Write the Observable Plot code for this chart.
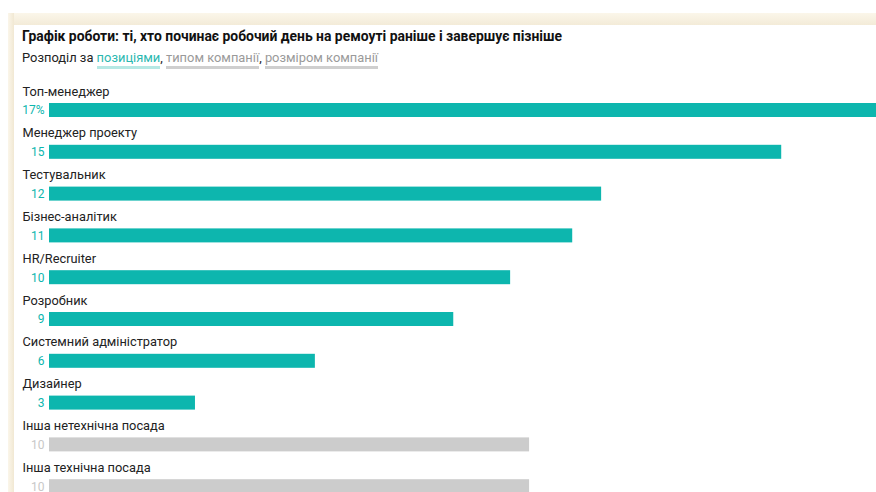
<!DOCTYPE html>
<html>
<head>
<meta charset="utf-8">
<script src="https://cdn.jsdelivr.net/npm/d3@7"></script>
<script src="https://cdn.jsdelivr.net/npm/@observablehq/plot@0.6"></script>
<style>
  html, body { margin: 0; padding: 0; background: #fff; width: 876px; height: 492px; overflow: hidden; }
  body { position: relative; font-family: Roboto, "Noto Sans", sans-serif; color: #222; }
  .frame-top { position: absolute; left: 8px; top: 13px; width: 868px; height: 12px;
    background: linear-gradient(#fbf6ea, #f3ebd8); }
  .frame-left { position: absolute; left: 8px; top: 13px; width: 6px; height: 479px;
    background: linear-gradient(90deg, #fbf6ea, #f1e8d3); }
  .title { position: absolute; left: 22px; top: 28px; font-size: 13.9px; font-weight: 700; line-height: 16px; white-space: nowrap; color: #111; }
  .subtitle { position: absolute; left: 22px; top: 50px; font-size: 12.9px; line-height: 16px; white-space: nowrap; color: #222; }
  .subtitle .tab { border-bottom: 3px solid #cfcfcf; color: #9a9a9a; padding-bottom: 1px; }
  .subtitle .tab.active { border-bottom-color: #b6e8e4; color: #2bb8b0; }
  #chart { position: absolute; left: 0; top: 78px; }
</style>
</head>
<body>
<div class="frame-top"></div>
<div class="frame-left"></div>
<div class="title">Графік роботи: ті, хто починає робочий день на ремоуті раніше і завершує пізніше</div>
<div class="subtitle">Розподіл за <span class="tab active">позиціями</span>, <span class="tab">типом компанії</span>, <span class="tab">розміром компанії</span></div>
<div id="chart"></div>
<script>
// Share of respondents (%) by position
const categories = [
  "Топ-менеджер",
  "Менеджер проекту",
  "Тестувальник",
  "Бізнес-аналітик",
  "HR/Recruiter",
  "Розробник",
  "Системний адміністратор",
  "Дизайнер",
  "Інша нетехнічна посада",
  "Інша технічна посада"
];
const values = [17.45, 15.45, 11.65, 11.04, 9.73, 8.53, 5.61, 3.08, 10.13, 10.13];
// Catch-all groups are shown in grey
const otherCategories = ["Інша нетехнічна посада", "Інша технічна посада"];

const teal = "#0db6ae";
const grey = "#cccccc";

const rows = categories.map((name, i) => ({
  name,
  value: values[i],
  other: otherCategories.includes(name),
  label: d3.format(".0f")(values[i]) + (i === 0 ? "%" : "")
}));

const rowStep = 41.8;
const bandTop = 4;

const chart = Plot.plot({
  width: 876,
  height: 414,
  marginLeft: 0,
  marginRight: 0,
  marginTop: 0,
  marginBottom: 0,
  style: { fontFamily: "Roboto, 'Noto Sans', sans-serif", background: "transparent" },
  x: { domain: [0, 17.45], range: [49, 876], axis: null },
  y: { type: "band", domain: categories, range: [bandTop, bandTop + rowStep * categories.length], padding: 0, round: false, axis: null },
  marks: [
    Plot.barX(rows, {
      x: "value",
      y: "name",
      fill: d => d.other ? grey : teal,
      insetTop: 21,
      insetBottom: rowStep - 35
    }),
    Plot.text(rows, {
      y: "name",
      text: "name",
      frameAnchor: "left",
      dx: 22,
      dy: 9 - rowStep / 2,
      textAnchor: "start",
      fontSize: 12.8,
      fill: "#222"
    }),
    Plot.text(rows, {
      y: "name",
      text: "label",
      frameAnchor: "left",
      dx: 44,
      dy: 28 - rowStep / 2,
      textAnchor: "end",
      fontSize: 12,
      fill: d => d.other ? "#c8c8c8" : teal
    })
  ]
});
document.getElementById("chart").appendChild(chart);
</script>
</body>
</html>
